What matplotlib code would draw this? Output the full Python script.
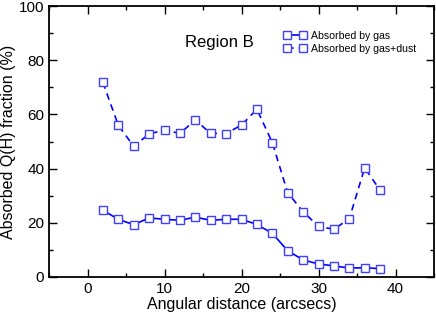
import matplotlib.pyplot as plt
from matplotlib.ticker import MultipleLocator

plt.rcParams['font.family'] = ['Liberation Sans', 'DejaVu Sans']

# angular distance (arcsecs)
afstand = [2, 4, 6, 8, 10, 12, 14, 16, 18, 20, 22, 24, 26, 28, 30, 32, 34, 36, 38]
# fraction absorbed by gas
gass = [24.6, 21.3, 19.3, 21.8, 21.3, 20.9, 22.1, 20.9, 21.3, 21.3, 19.4, 16.1,
        9.7, 6.3, 4.8, 4.1, 3.3, 3.4, 3.1]
# fraction absorbed by gas+dust
gass_stov = [71.8, 56.0, 48.2, 52.8, 54.2, 53.0, 57.9, 53.0, 52.9, 56.1, 61.9, 49.6,
             31.1, 24.1, 18.7, 17.6, 21.5, 40.3, 32.0]

fig = plt.figure(figsize=(4.36, 3.12), dpi=100)
ax = fig.add_axes([49/436, 35/312, 385/436, 271/312])

farge = '#0000ff'
ax.plot(afstand, gass, '-s', color=farge, lw=1.2, ms=6, mfc='white',
        mec='#4040ff', mew=1.0, label='Absorbed by gas')
ax.plot(afstand, gass_stov, '--s', color=farge, lw=1.2, ms=6, mfc='white',
        mec='#4040ff', mew=1.0, label='Absorbed by gas+dust', dashes=(4, 3))

ax.set_xlim(-5, 45)
ax.set_ylim(0, 100)
ax.xaxis.set_major_locator(MultipleLocator(10))
ax.xaxis.set_minor_locator(MultipleLocator(5))
ax.yaxis.set_major_locator(MultipleLocator(20))
ax.yaxis.set_minor_locator(MultipleLocator(10))
ax.tick_params(which='both', direction='in', top=True, right=True, labelsize=11)
ax.tick_params(which='major', length=6, width=1)
ax.tick_params(which='minor', length=3, width=1)
for s in ax.spines.values():
    s.set_linewidth(1.3)

ax.set_xlabel('Angular distance (arcsecs)', fontsize=11.5, labelpad=1)
ax.set_ylabel('Absorbed Q(H) fraction (%)', fontsize=11.5, labelpad=2)
ax.text(0.353, 0.85, 'Region B', transform=ax.transAxes, fontsize=12)

ax.legend(loc='upper left', bbox_to_anchor=(0.6, 0.925), frameon=False,
          fontsize=7.6, numpoints=2, handlelength=2.1, handletextpad=0.4,
          labelspacing=0.3, borderaxespad=0)

fig.savefig('out.png', dpi=100)
